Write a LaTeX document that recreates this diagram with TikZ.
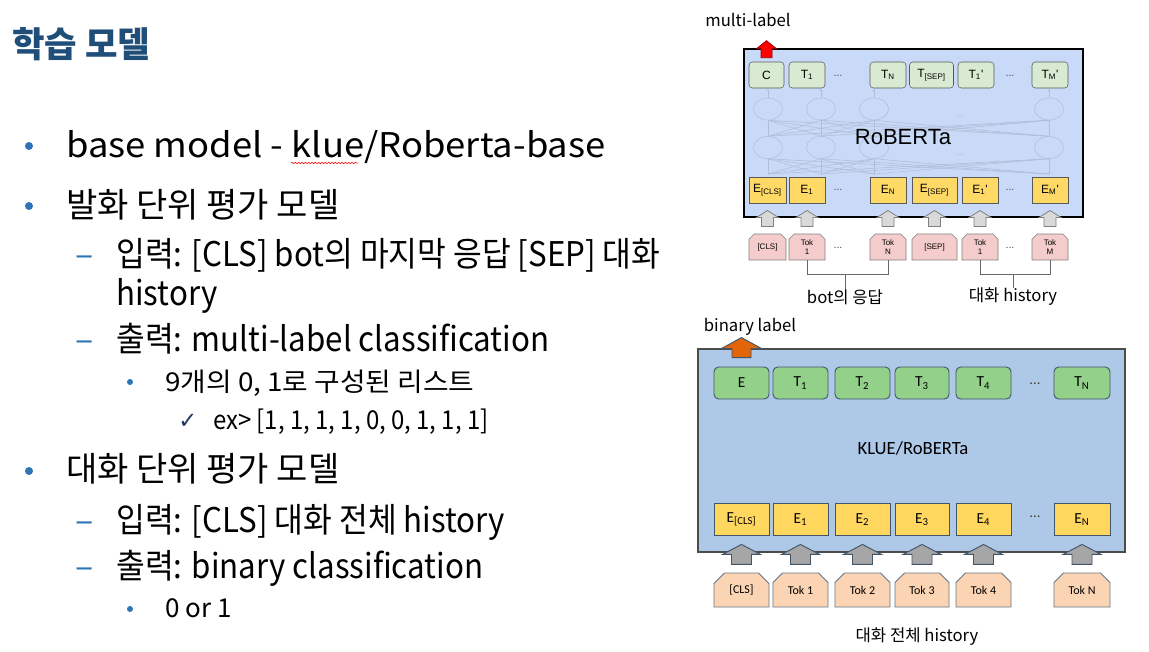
\documentclass[tikz,border=0pt]{standalone}
\usepackage{fontspec}
\setmainfont{Noto Sans CJK KR}
\newfontfamily\narrowkr[FakeStretch=0.92]{Noto Sans CJK KR}
\newfontfamily\widekr[FakeStretch=1.07]{Noto Sans CJK KR}
\newfontfamily\arialfont{Liberation Sans}
\newfontfamily\califont{Carlito}
\newfontfamily\symfont{DejaVu Sans}
\usetikzlibrary{arrows.meta,calc,positioning,shapes.misc,shapes.geometric,decorations.pathmorphing}

\definecolor{titleblue}{HTML}{1F4E79}
\definecolor{bulletblue}{HTML}{2E75B6}
\definecolor{checknavy}{HTML}{1F3864}
\definecolor{rbbg}{HTML}{C9DAF8}
\definecolor{rbgreen}{HTML}{D9EAD3}
\definecolor{rbyellow}{HTML}{FFD966}
\definecolor{rbpink}{HTML}{F4CCCC}
\definecolor{rbnet}{HTML}{B0BED6}
\definecolor{klbg}{HTML}{AEC8E8}
\definecolor{klgreen}{HTML}{93D08A}
\definecolor{klyellow}{HTML}{FFD75E}
\definecolor{klpeach}{HTML}{FBD4B4}
\definecolor{kledge}{HTML}{41556B}
\definecolor{klorange}{HTML}{E3650A}

\tikzset{
  pics/blkup/.style args={#1/#2/#3/#4}{code={
    \draw[pic actions] (0,{-#1/2}) -- (#2,{-#1/2+#4}) -- (#3,{-#1/2+#4}) -- (#3,{#1/2})
      -- ({-#3},{#1/2}) -- ({-#3},{-#1/2+#4}) -- ({-#2},{-#1/2+#4}) -- cycle;}},
  lvlone/.style={anchor=base west, inner sep=0pt, font=\fontsize{25.5}{30}\selectfont},
  lvlthree/.style={anchor=base west, inner sep=0pt, font=\fontsize{19.5}{24}\selectfont},
  dotbig/.style={circle, fill=bulletblue, inner sep=0pt, minimum size=6pt},
  dotsmall/.style={circle, fill=bulletblue, inner sep=0pt, minimum size=4.5pt},
  labeltxt/.style={inner sep=0pt, font=\fontsize{12.5}{15}\selectfont},
  rbt/.style={draw=black!65, fill=rbgreen, rounded corners=2.5pt, inner sep=0pt,
    minimum height=19.5pt, font=\arialfont\fontsize{9}{10}\selectfont},
  rbe/.style={draw=black!65, fill=rbyellow, inner sep=0pt,
    minimum height=19.5pt, font=\arialfont\fontsize{9}{10}\selectfont},
  rbtok/.style={draw=black!50, fill=rbpink, chamfered rectangle,
    chamfered rectangle corners={north west,north east},
    chamfered rectangle xsep=2pt, chamfered rectangle ysep=2pt, inner sep=0pt,
    minimum height=19.5pt, align=center, font=\arialfont\fontsize{6}{7}\selectfont},
  rbarrow/.style={draw=black!50, fill=black!15, line width=0.6pt},
  rbcirc/.style={ellipse, draw=rbnet, inner sep=0pt, minimum width=21.75pt, minimum height=16.5pt},
  rbline/.style={draw=rbnet, line width=0.4pt},
  rbdots/.style={inner sep=0pt, font=\arialfont\fontsize{8}{10}\selectfont, text=black!70},
  brk/.style={draw=black!60, line width=0.6pt},
  klt/.style={draw=kledge, fill=klgreen, rounded corners=3.5pt, inner sep=0pt, line width=0.7pt,
    minimum height=24pt, font=\califont\fontsize{11.5}{13}\selectfont},
  kle/.style={draw=kledge, fill=klyellow, inner sep=0pt, line width=0.7pt,
    minimum height=24.5pt, font=\califont\fontsize{11.5}{13}\selectfont},
  kltok/.style={draw=kledge!80, fill=klpeach, chamfered rectangle,
    chamfered rectangle corners={north west,north east},
    chamfered rectangle xsep=4pt, chamfered rectangle ysep=4pt, inner sep=0pt, line width=0.7pt,
    minimum height=25.5pt, font=\califont\fontsize{9}{11}\selectfont},
  klarrow/.style={draw=kledge, fill=black!35, line width=0.7pt},
}

\begin{document}
\begin{tikzpicture}[x=0.75pt,y=-0.75pt]
\fill[white] (0,0) rectangle (1149,651);
\useasboundingbox (0,0) rectangle (1149,651);

% slide text
\node[anchor=base west, inner sep=0pt, text=titleblue, font=\bfseries\fontsize{26.5}{30}\selectfont] (title) at (12,57) {학습 모델};

\node[dotbig] (d1) at (29,146) {};
\node[lvlone] (l1) at (66,157) {\widekr base model - klue/Roberta-base};
\draw[red, line width=0.4pt, decorate, decoration={snake, amplitude=0.6pt, segment length=2.5pt}] (291,163) -- (358,163);
\node[dotbig] (d2) at (29,206) {};
\node[lvlone] (l2) at (66,217) {발화 단위 평가 모델};
\node[lvlone, text=bulletblue] (m1) at (75,266) {–};
\node[lvlone] (l3) at (116,266) {\narrowkr 입력: [CLS] bot의 마지막 응답 [SEP] 대화};
\node[lvlone] (l3b) at (116,305) {\narrowkr history};
\node[lvlone, text=bulletblue] (m2) at (75,351) {–};
\node[lvlone] (l4) at (116,351) {\narrowkr 출력: multi-label classification};
\node[dotsmall] (d3) at (130,382) {};
\node[lvlthree] (l5) at (165,391) {\widekr 9개의 0, 1로 구성된 리스트};
\node[anchor=base west, inner sep=0pt, text=checknavy, font=\symfont\fontsize{17}{20}\selectfont] (ck) at (178,428) {✓};
\node[lvlthree] (l6) at (213,429) {\narrowkr ex> [1, 1, 1, 1, 0, 0, 1, 1, 1]};
\node[dotbig] (d4) at (29,471) {};
\node[lvlone] (l7) at (66,481) {대화 단위 평가 모델};
\node[lvlone, text=bulletblue] (m3) at (75,532) {–};
\node[lvlone] (l8) at (116,532) {\narrowkr 입력: [CLS] 대화 전체 history};
\node[lvlone, text=bulletblue] (m4) at (75,578) {–};
\node[lvlone] (l9) at (116,578) {\narrowkr 출력: binary classification};
\node[dotsmall] (d5) at (130,609) {};
\node[lvlthree] (l10) at (165,617) {0 or 1};

% RoBERTa, utterance level
\node[labeltxt] (mlabel) at (748,20) {multi-label};
\draw[line width=2.2pt, fill=rbbg] (744,49) rectangle (1083,217);
\foreach \n/\x/\w/\t in {c/766.5/35/C, t1/807/36/{T\textsubscript{1}}, tn/888/36/{T\textsubscript{N}},
    tsep/931.5/44/{T\textsubscript{[SEP]}}, tp1/976/36/{T\textsubscript{1}'}, tpm/1050/36/{T\textsubscript{M}'}}
  \node[rbt, minimum width=\w*0.75pt] (\n) at (\x,75) {\t};
\foreach \n/\x/\w/\t in {ecls/767.5/37/{E\textsubscript{[CLS]}}, e1/807/36/{E\textsubscript{1}}, en/888/36/{E\textsubscript{N}},
    esep/934.5/45/{E\textsubscript{[SEP]}}, ep1/980/36/{E\textsubscript{1}'}, epm/1050/36/{E\textsubscript{M}'}}
  \node[rbe, minimum width=\w*0.75pt] (\n) at (\x,190) {\t};
\foreach \n/\x/\w/\t in {kcls/767.5/37/{[CLS]}, k1/807/36/{Tok\\1}, kn/888/36/{Tok\\N},
    ksep/934.5/45/{[SEP]}, kp1/980/36/{Tok\\1}, kpm/1050/36/{Tok\\M}}
  \node[rbtok, minimum width=\w*0.75pt] (\n) at (\x,247) {\t};
\foreach \p in {76,190,248} {
  \node[rbdots] at (838,\p) {...};
  \node[rbdots] at (1010,\p) {...};
}
% hidden layers
\foreach \i/\x in {1/768,2/821,3/874,4/1049} {
  \node[rbcirc] (lo\i) at (\x,147.5) {};
  \node[rbcirc] (up\i) at (\x,109) {};
  \coordinate (in\i) at (\x,174);
  \coordinate (out\i) at (\x,89);
}
\foreach \i in {1,...,4} {
  \foreach \j in {1,...,4} {
    \draw[rbline] (in\i) -- (lo\j.south);
    \draw[rbline] (lo\i.north) -- (up\j.south);
  }
  \draw[rbline, -{Stealth[length=2pt,width=2pt]}] (up\i.north) -- (out\i);
}
\node[rbdots, text=rbnet] at (960,117) {...};
\node[rbdots, text=rbnet] at (960,155) {...};
\node[inner sep=0pt, font=\arialfont\fontsize{16.5}{20}\selectfont] (rbname) at (903,137) {RoBERTa};
\foreach \a/\b in {kcls/ecls, k1/e1, kn/en, ksep/esep, kp1/ep1, kpm/epm}
  \pic[rbarrow] at ($(\a.north)!0.5!(\b.south)$) {blkup=16/11/6/7};
\pic[draw=red!60!black, fill=red, line width=0.6pt] at ($(c.north)+(0,-12.5)$) {blkup=17/10/5.5/8};
% brackets
\node[labeltxt] (botlbl) at (845,297) {bot의 응답};
\node[labeltxt] (histlbl) at (1013,297) {대화 history};
\draw[brk] (k1.south) -- ++(0,14) coordinate (bk1) -| (kn.south);
\draw[brk] (bk1 -| botlbl) -- (botlbl.north);
\draw[brk] (kp1.south) -- ++(0,14) coordinate (bk2) -| (kpm.south);
\draw[brk] (bk2 -| histlbl) -- (histlbl.north);

% KLUE/RoBERTa, dialogue level
\node[labeltxt] (blabel) at (750,327) {binary label};
\draw[draw=black!70, fill=klbg, line width=0.8pt] (698,349) rectangle (1125,552);
\foreach \n/\x/\w/\t in {ge/741.5/55/E, gt1/800.5/55/{T\textsubscript{1}}, gt2/862.5/55/{T\textsubscript{2}},
    gt3/922/54/{T\textsubscript{3}}, gt4/983.5/55/{T\textsubscript{4}}, gtn/1082/56/{T\textsubscript{N}}}
  \node[klt, minimum width=\w*0.75pt] (\n) at (\x,383) {\t};
\foreach \n/\x/\w/\t in {ye/741.5/55/{E\textsubscript{[CLS]}}, ye1/800.5/55/{E\textsubscript{1}}, ye2/862.5/55/{E\textsubscript{2}},
    ye3/922/54/{E\textsubscript{3}}, ye4/983.5/55/{E\textsubscript{4}}, yen/1082/56/{E\textsubscript{N}}}
  \node[kle, minimum width=\w*0.75pt] (\n) at (\x,519.5) {\t};
\foreach \n/\x/\w/\t in {pcls/741.5/55/{[CLS]}, p1/800.5/55/{Tok 1}, p2/862.5/55/{Tok 2},
    p3/922/54/{Tok 3}, p4/983.5/55/{Tok 4}, pn/1082/56/{Tok N}}
  \node[kltok, minimum width=\w*0.75pt] (\n) at (\x,590) {\t};
\foreach \a/\b in {pcls/ye, p1/ye1, p2/ye2, p3/ye3, p4/ye4, pn/yen}
  \pic[klarrow] at ($(\a.north)!0.5!(\b.south)$) {blkup=20/19/10/10};
\node[rbdots, font=\califont\fontsize{11}{13}\selectfont, text=black!75] at (1035,384) {...};
\node[rbdots, font=\califont\fontsize{11}{13}\selectfont, text=black!75] at (1035,517) {...};
\node[inner sep=0pt, font=\califont\fontsize{14}{17}\selectfont] (klname) at (913,448) {KLUE/RoBERTa};
\pic[draw=kledge, fill=klorange, line width=0.7pt] at ($(ge.north)+(0,-19)$) {blkup=20/20/9.5/11};
\node[labeltxt] (alllbl) at (917,637) {대화 전체 history};
\end{tikzpicture}
\end{document}
